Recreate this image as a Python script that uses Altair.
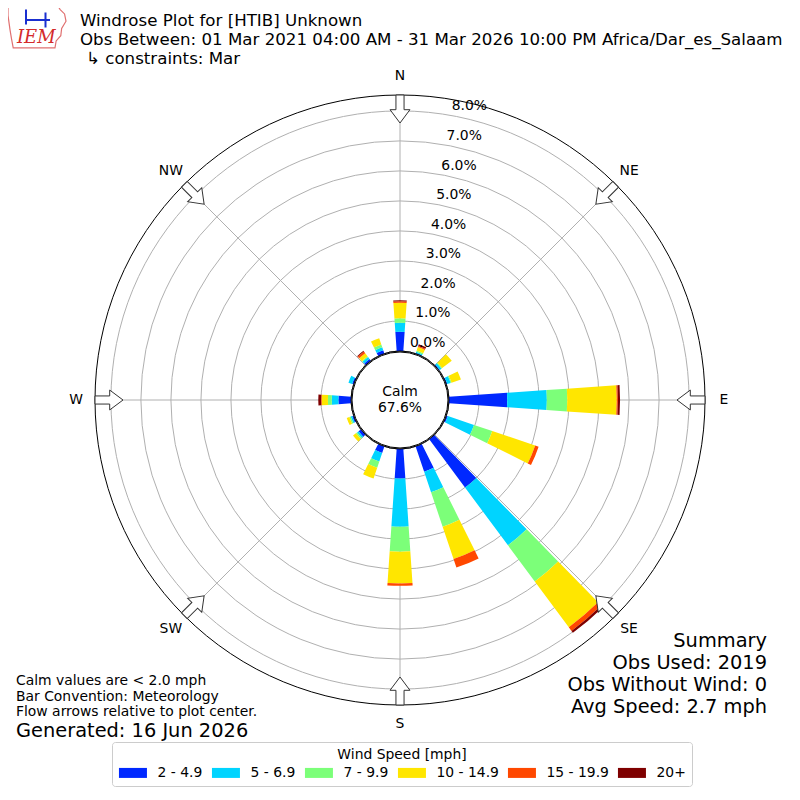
import math
import altair as alt
import pandas as pd

# ---------------- data ----------------
directions = ["N", "NNE", "NE", "ENE", "E", "ESE", "SE", "SSE",
              "S", "SSW", "SW", "WSW", "W", "WNW", "NW", "NNW"]
# bar centre direction (degrees, clockwise from north) as drawn in the picture
dir_angles = [0, 22.5, 49, 67.5, 90, 112.5, 139.5, 157.5,
              180, 202.5, 229, 247.5, 270, 292.5, 319.5, 337.5]
speed_bins = ["2 - 4.9", "5 - 6.9", "7 - 9.9", "10 - 14.9", "15 - 19.9", "20+"]
bin_colors = ["#0028ff", "#00d4ff", "#7cff79", "#ffe600", "#ff4800", "#7f0000"]

# percent of observations per direction, one list per speed bin
pct_2_5 = [0.64, 0.02, 0.03, 0.03, 1.94, 0.05, 2.00, 0.89, 0.98, 0.23, 0.10, 0.05, 0.42, 0.05, 0.07, 0.12]
pct_5_7 = [0.30, 0.04, 0.07, 0.12, 1.32, 0.92, 2.40, 0.72, 1.61, 0.30, 0.06, 0.05, 0.22, 0.13, 0.08, 0.10]
pct_7_10 = [0.15, 0.05, 0.03, 0.03, 0.68, 0.64, 1.50, 1.21, 0.83, 0.22, 0.05, 0.05, 0.13, 0.00, 0.03, 0.10]
pct_10_15 = [0.52, 0.12, 0.40, 0.33, 1.65, 1.51, 1.90, 1.14, 1.06, 0.38, 0.12, 0.09, 0.21, 0.00, 0.13, 0.22]
pct_15_20 = [0.05, 0.04, 0.00, 0.00, 0.04, 0.12, 0.15, 0.30, 0.08, 0.00, 0.00, 0.00, 0.02, 0.00, 0.07, 0.00]
pct_20p = [0.03, 0.06, 0.00, 0.00, 0.07, 0.00, 0.08, 0.00, 0.00, 0.00, 0.00, 0.00, 0.09, 0.00, 0.03, 0.00]
series = [pct_2_5, pct_5_7, pct_7_10, pct_10_15, pct_15_20, pct_20p]

calm_pct = 67.6
ring_ticks = [0, 1, 2, 3, 4, 5, 6, 7, 8]
compass_labels = ["N", "NE", "E", "SE", "S", "SW", "W", "NW"]
compass_angles = [0, 45, 90, 135, 180, 225, 270, 315]

title_lines = ["Windrose Plot for [HTIB] Unknown",
               "Obs Between: 01 Mar 2021 04:00 AM - 31 Mar 2026 10:00 PM Africa/Dar_es_Salaam",
               "\u21b3 constraints: Mar"]
summary_lines = ["Summary", "Obs Used: 2019", "Obs Without Wind: 0", "Avg Speed: 2.7 mph"]
note_lines = ["Calm values are < 2.0 mph", "Bar Convention: Meteorology",
              "Flow arrows relative to plot center."]
generated = "Generated: 16 Jun 2026"

rows = []
for j, b in enumerate(speed_bins):
    for i, d in enumerate(directions):
        rows.append({"dir": d, "angle": dir_angles[i], "bin": b, "order": j, "pct": series[j][i]})
bars_df = pd.DataFrame(rows)

# ---------------- layout ----------------
W = 784
H = 784
R_IN, R_OUT, R_MAX = 49, 305, 8.53
PX_PER_PCT = (R_OUT - R_IN) / R_MAX
HALF_W = 3.9
FONT = "DejaVu Sans"

theta_scale = alt.Scale(domain=[0, 360], range=[0, 2 * math.pi])
r_scale = alt.Scale(type="linear", domain=[0, R_MAX], range=[R_IN, R_OUT], zero=False, nice=False)
x_scale = alt.Scale(domain=[-W / 2, W / 2], range=[0, W], nice=False, zero=False)
y_scale = alt.Scale(domain=[-H / 2, H / 2], range=[H, 0], nice=False, zero=False)

rings = alt.Chart(pd.DataFrame({"pct": ring_ticks})).mark_arc(
    theta=0, theta2=2 * math.pi, fillOpacity=0, stroke="#b0b0b0", strokeWidth=1
).encode(radius=alt.Radius("pct:Q", scale=r_scale, stack=False))

outer = alt.Chart(pd.DataFrame({"pct": [R_MAX]})).mark_arc(
    theta=0, theta2=2 * math.pi, fillOpacity=0, stroke="black", strokeWidth=1
).encode(radius=alt.Radius("pct:Q", scale=r_scale, stack=False))

spokes = alt.Chart(pd.DataFrame({"angle": compass_angles})).transform_calculate(
    x0="0", y0="0",
    x1=f"{R_OUT}*sin(datum.angle*PI/180)",
    y1=f"{R_OUT}*cos(datum.angle*PI/180)",
).mark_rule(color="#b0b0b0", strokeWidth=1).encode(
    x=alt.X("x0:Q", scale=x_scale, axis=None),
    y=alt.Y("y0:Q", scale=y_scale, axis=None),
    x2="x1:Q", y2="y1:Q",
)

legend = alt.Legend(
    title="Wind Speed [mph]", orient="none", legendX=104, legendY=734,
    direction="horizontal", columns=6, titleAnchor="middle", titleOrient="top",
    titleFont=FONT, titleFontSize=13.9, titleFontWeight="normal", titleColor="black",
    titlePadding=4,
    labelFont=FONT, labelFontSize=13.9, labelColor="black",
    symbolType="M-2.333,-0.8333H2.333V0.8333H-2.333Z", symbolSize=144,
    symbolStrokeWidth=0, symbolOpacity=1, symbolOffset=8,
    labelOffset=17.6, columnPadding=8, padding=6,
    strokeColor="#cccccc", fillColor="white", cornerRadius=3,
)

bars = alt.Chart(bars_df).transform_stack(
    stack="pct", groupby=["angle"], as_=["r0", "r1"],
    sort=[alt.SortField("order", order="ascending")],
).transform_calculate(
    t0=f"datum.angle - {HALF_W}", t1=f"datum.angle + {HALF_W}"
).mark_arc().encode(
    theta=alt.Theta("t0:Q", scale=theta_scale, stack=False),
    theta2="t1:Q",
    radius=alt.Radius("r1:Q", scale=r_scale, stack=False),
    radius2="r0:Q",
    color=alt.Color("bin:N", scale=alt.Scale(domain=speed_bins, range=bin_colors), legend=legend),
)

calm_disk = alt.Chart(pd.DataFrame({"calm": [calm_pct]})).mark_arc(
    radius=48, theta=0, theta2=2 * math.pi, stroke="black", strokeWidth=1
).encode(fill=alt.value("white"))

calm_text = alt.Chart(pd.DataFrame({"calm": [calm_pct]})).transform_calculate(
    t1="'Calm'", t2="format(datum.calm, '.1f') + '%'"
)
calm_t1 = calm_text.mark_text(font=FONT, fontSize=13.9, align="center", baseline="alphabetic",
                              x=W / 2, y=396 - 8, color="black").encode(text="t1:N")
calm_t2 = calm_text.mark_text(font=FONT, fontSize=13.9, align="center", baseline="alphabetic",
                              x=W / 2, y=412 - 8, color="black").encode(text="t2:N")

compass_df = pd.DataFrame({"label": compass_labels, "angle": compass_angles})
compass_text = alt.Chart(compass_df).transform_calculate(
    x="324*sin(datum.angle*PI/180)", y="324*cos(datum.angle*PI/180)"
).mark_text(font=FONT, fontSize=13.9, align="center", baseline="middle", color="black").encode(
    x=alt.X("x:Q", scale=x_scale, axis=None), y=alt.Y("y:Q", scale=y_scale, axis=None), text="label:N"
)

arrow_path = "M-0.29,-1L0.29,-1L0.29,0.05L0.71,0.05L0,1L-0.71,0.05L-0.29,0.05Z"
arrows = alt.Chart(compass_df).transform_calculate(
    x="291*sin(datum.angle*PI/180)", y="291*cos(datum.angle*PI/180)"
).mark_point(shape=arrow_path, size=784, filled=True, fill="white", stroke="#333333",
             strokeWidth=1, opacity=1).encode(
    x=alt.X("x:Q", scale=x_scale, axis=None), y=alt.Y("y:Q", scale=y_scale, axis=None),
    angle=alt.Angle("angle:Q", scale=None),
)

ring_labels = alt.Chart(pd.DataFrame({"pct": ring_ticks})).transform_calculate(
    rr=f"{R_IN} + {PX_PER_PCT}*datum.pct + 9",
).transform_calculate(
    x="datum.rr*sin(10*PI/180)", y="datum.rr*cos(10*PI/180)",
    label="format(datum.pct, '.1f') + '%'",
).mark_text(font=FONT, fontSize=13.9, align="left", baseline="middle", color="black").encode(
    x=alt.X("x:Q", scale=x_scale, axis=None), y=alt.Y("y:Q", scale=y_scale, axis=None), text="label:N"
)

# IEM logo: Iowa outline with the letters
logo_shape = alt.Chart(pd.DataFrame({"k": [0]})).mark_point(
    shape="M-1,-0.72L0.72,-0.72L0.8,-0.6L0.95,-0.45L1,-0.2L0.85,0.05L0.82,0.3L0.66,0.48L0.62,0.72"
          "L-0.82,0.72L-0.88,0.4L-0.93,0.1L-1,-0.4Z",
    size=3364, filled=False, stroke="#e07070", strokeWidth=1.2, opacity=1,
).encode(x=alt.value(37 - 8), y=alt.value(27 - 8))
logo_station = alt.Chart(pd.DataFrame({"k": [0]})).mark_point(
    shape="M-0.8,0L0.8,0M0.5,-0.5L0.5,0.5M-0.8,-0.7L-0.8,0.3",
    size=900, filled=False, stroke="#1a2fd0", strokeWidth=2, opacity=1,
).encode(x=alt.value(38 - 8), y=alt.value(20 - 8))


def text_layer(lines, x, y0, dy, size, align="left", color="black", font=FONT, style=None):
    df = pd.DataFrame({"t": lines, "k": list(range(len(lines)))})
    kw = {}
    if style:
        kw["fontStyle"] = style
    return alt.Chart(df).transform_calculate(
        yy=f"{y0} + {dy}*datum.k"
    ).mark_text(font=font, fontSize=size, align=align, baseline="alphabetic", color=color, x=x, **kw).encode(
        y=alt.Y("yy:Q", scale=None), text="t:N"
    )


title1 = text_layer(title_lines[:2], 80 - 8, 26 - 8, 19, 16.67)
title2 = text_layer(title_lines[2:], 86 - 8, 64 - 8, 19, 16.67)
summary = text_layer(summary_lines, 767 - 8, 647 - 8, 22, 19.4, align="right")
notes = text_layer(note_lines, 16 - 8, 685 - 8, 15.5, 13.9)
gen = text_layer([generated], 16 - 8, 737 - 8, 0, 19.4)
logo = text_layer(["IEM"], 17 - 8, 43 - 8, 0, 18, color="#d42a2a", font="DejaVu Serif", style="italic")

chart = alt.layer(
    rings, spokes, bars, outer, calm_disk, calm_t1, calm_t2, arrows, compass_text, ring_labels,
    logo_shape, logo_station, title1, title2, summary, notes, gen, logo,
).resolve_scale(y="independent").properties(
    width=W, height=H, padding=0, autosize=alt.AutoSizeParams(type="none")
).configure_view(stroke=None)

chart.save("out.html", embed_options={"renderer": "svg", "actions": False})
